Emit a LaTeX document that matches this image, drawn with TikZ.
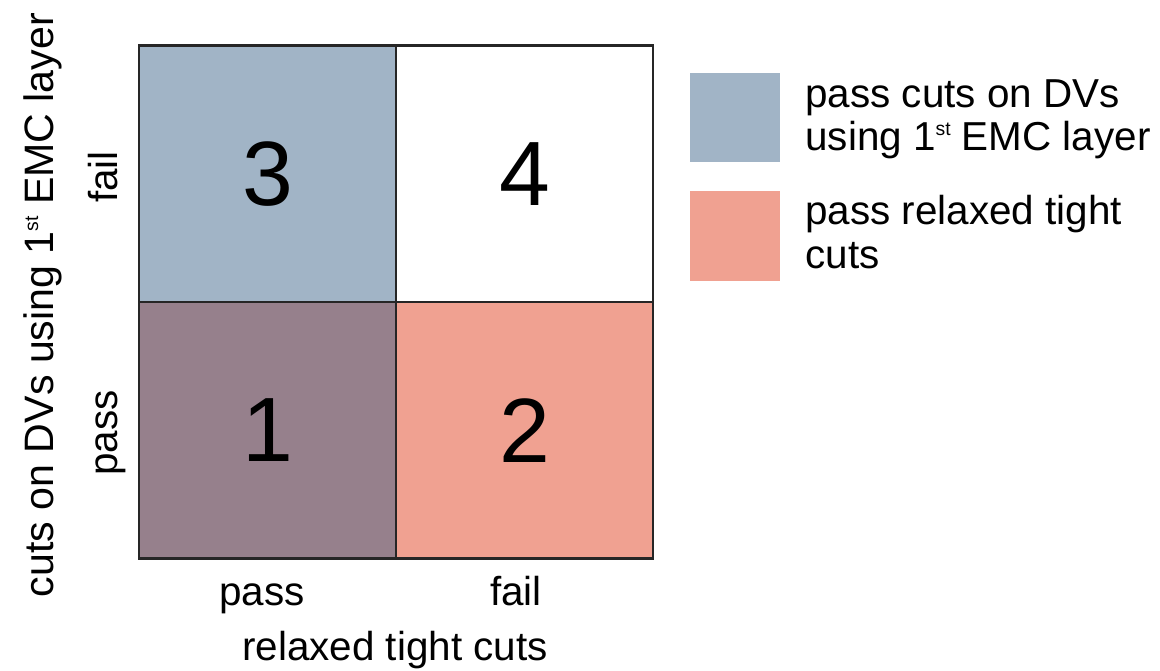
\documentclass[tikz,border=0pt]{standalone}
\usepackage{fontspec}
\setmainfont{Liberation Sans}
\definecolor{cblue}{HTML}{A1B4C6}
\definecolor{cpurple}{HTML}{96808C}
\definecolor{csalmon}{HTML}{F0A191}
\newcommand\stsup{\raisebox{0.36em}{\fontsize{11}{11}\selectfont st}}
\begin{document}
\begin{tikzpicture}[x=0.02cm,y=-0.02cm,
  cell/.style={draw=black!85,line width=1.2pt,minimum width=5.14cm,minimum height=5.13cm,inner sep=0pt,font=\fontsize{52}{56}\selectfont},
  lbl/.style={font=\fontsize{23}{25}\selectfont,inner sep=0pt,anchor=base},
  legbox/.style={minimum width=1.8cm,minimum height=1.8cm,inner sep=0pt},
  legtxt/.style={font=\fontsize{23}{25}\selectfont,inner sep=0pt,anchor=base west}]
\useasboundingbox (0,0) rectangle (1160,670);
\node[cell,fill=cblue] (c3) at (267.5,173.75) {3};
\node[cell,fill=white] (c4) at (524.5,173.75) {4};
\node[cell,fill=cpurple] (c1) at (267.5,430.25) {1};
\node[cell,fill=csalmon] (c2) at (524.5,430.25) {2};
\node[lbl,rotate=90] (yfail) at (117,177) {fail};
\node[lbl,rotate=90] (ypass) at (117,433) {pass};
\node[lbl,rotate=90,font=\fontsize{23.4}{25}\selectfont] (ylab) at (53,305) {cuts on DVs using 1\stsup{} EMC layer};
\node[lbl] (xpass) at (262,605) {pass};
\node[lbl] (xfail) at (516,605) {fail};
\node[lbl] (xlab) at (395,660) {relaxed tight cuts};
\node[legbox,fill=cblue] (lb) at (735,117.5) {};
\node[legbox,fill=csalmon] (lr) at (735,236) {};
\node[legtxt] (lbt1) at (805,107) {pass cuts on DVs};
\node[legtxt] (lbt2) at (805,150) {using 1\stsup{} EMC layer};
\node[legtxt] (lrt1) at (805,224) {pass relaxed tight};
\node[legtxt] (lrt2) at (805,268) {cuts};
\end{tikzpicture}
\end{document}
